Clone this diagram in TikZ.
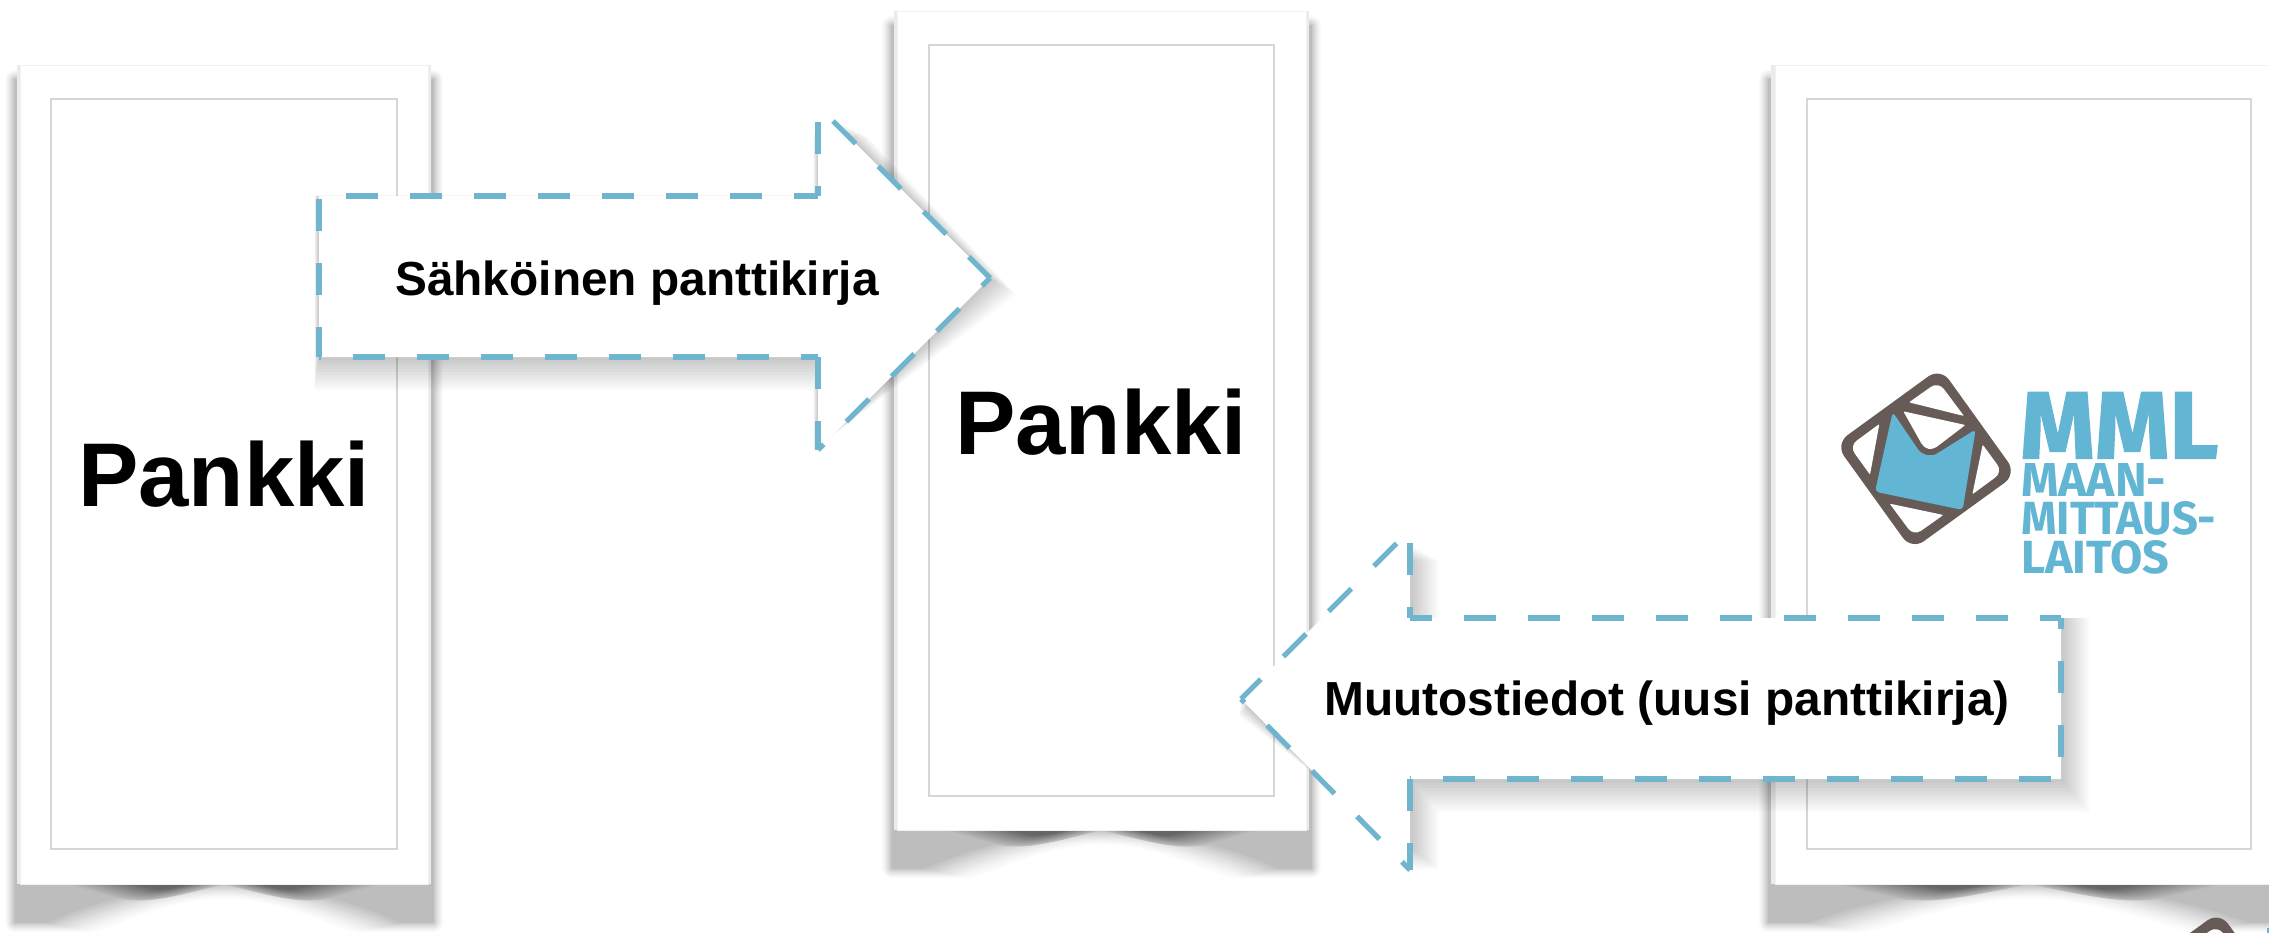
\documentclass[tikz,border=0pt]{standalone}
\usepackage{fontspec}
\setmainfont{Liberation Sans}
\newfontfamily\logofont{Fira Sans}
\newfontfamily\logoheavy[FakeBold=1.6]{Fira Sans Bold}
\definecolor{dashblue}{HTML}{70B5CE}
\definecolor{logoblue}{HTML}{62B5D3}
\definecolor{logobrown}{HTML}{665B57}
\tikzset{
  framerule/.style={draw=black!16,line width=1.1pt},
  cardface/.style={fill=white,draw=black!5,line width=0.8pt},
  dashseg/.style={draw=dashblue,line width=5.2pt,dash pattern=on 32pt off 32pt},
  bigword/.style={inner sep=0pt,anchor=base,font=\bfseries\fontsize{90.5pt}{100pt}\selectfont},
  arrowword/.style={inner sep=0pt,anchor=base,font=\bfseries\fontsize{47.8pt}{56pt}\selectfont},
  logoword/.style={inner sep=0pt,anchor=south west,text=logoblue}
}
% soft shadow of one card: x, y, horizontal scale (card is 408 wide in local units)
\newcommand{\CardShadow}[3]{%
  \begin{scope}[shift={(#1,#2)},xscale=#3]
    \foreach \i in {0,...,24}{
      \pgfmathsetmacro{\ta}{\i/24}
      \pgfmathsetmacro{\w}{20*(1-\ta)}
      \pgfmathsetmacro{\pct}{1+25*\ta^1.3}
      \pgfmathsetmacro{\sx}{72-46*\ta}
      \pgfmathsetmacro{\cy}{819+34-24*\ta}
      \pgfmathsetmacro{\dy}{819+4-4*\ta}
      \pgfmathsetmacro{\ex}{408-\sx}
      \filldraw[fill=black!\pct,draw=black!\pct,line width=\w pt,line join=round]
        (-5,15) -- (413,15) -- (413,857) -- (\ex,857)
        .. controls (318,\cy) and (258,\dy) .. (204,\dy)
        .. controls (150,\dy) and (90,\cy) .. (\sx,857) -- (-5,857) -- cycle;
    }
    \foreach \i in {0,...,17}{
      \pgfmathsetmacro{\ta}{\i/17}
      \pgfmathsetmacro{\pct}{26+\ta*34}
      \pgfmathsetmacro{\La}{45+\ta*70}
      \pgfmathsetmacro{\Ra}{205-\ta*35}
      \pgfmathsetmacro{\Da}{22-\ta*15}
      \pgfmathsetmacro{\Ma}{0.55*\La+0.45*\Ra}
      \pgfmathsetmacro{\Lb}{408-\La}
      \pgfmathsetmacro{\Rb}{408-\Ra}
      \pgfmathsetmacro{\Mb}{408-\Ma}
      \fill[black!\pct] (\La,819) -- (\Ra,819) .. controls (\Ma,819+\Da) .. (\La,819) -- cycle;
      \fill[black!\pct] (\Lb,819) -- (\Rb,819) .. controls (\Mb,819+\Da) .. (\Lb,819) -- cycle;
    }
    \fill[black!8] (-3,0) rectangle (0,819);
    \fill[black!8] (408,0) rectangle (411,819);
  \end{scope}}
% the emblem of the logo, drawn from a 3x local grid
\newcommand{\LogoEmblem}[2]{%
  \begin{scope}[shift={(#1,#2)},scale=1/3]
    \fill[logobrown,rounded corners=15pt] (541,83) -- (770,402) -- (455,630) -- (226,312) -- cycle;
    \fill[white] (447,187) [rounded corners=9pt] -- (535,125) [rounded corners=1pt] -- (612,228) -- cycle;
    \fill[white] (358,252) [rounded corners=9pt] -- (268,318) [rounded corners=1pt] -- (330,404) -- cycle;
    \fill[white] (389,491) [rounded corners=9pt] -- (461,588) [rounded corners=1pt] -- (550,525) -- cycle;
    \fill[white] (668,314) [rounded corners=9pt] -- (728,396) [rounded corners=1pt] -- (637,463) -- cycle;
    \fill[logoblue] (398,216) [rounded corners=14pt] -- (497,362) [rounded corners=4pt] -- (647,268) -- (608,510) -- (345,455) -- cycle;
    \fill[white] (430,214) [rounded corners=1pt] -- (616,255) [rounded corners=12pt] -- (502,342) [rounded corners=1pt] -- cycle;
  \end{scope}}
\def\ArrowOnePath{(319,196) -- (319,357) -- (818,357) -- (818,450) -- (990,278) -- (830,118) -- (818,120) -- (818,196) -- cycle}
\def\ArrowTwoPath{(2061,618) -- (2061,779) -- (1410,779) -- (1410,870) -- (1241,699) -- (1398,542) -- (1410,544) -- (1410,618) -- cycle}
\newcommand{\ArrowOneShadow}{%
  \foreach \w in {33,30,27,24,21,18,15,12,9,6,3}{
    \pgfmathsetmacro{\dd}{\w/2}
    \pgfmathsetmacro{\ee}{1.414*\dd}
    \fill[black,opacity=.021,shift={(0.36*\w,0.5*\w)}]
      (319-\dd,196-\dd) -- (319-\dd,357+\dd) -- (818-\dd,357+\dd) -- (818-\dd,450-\dd)
      -- (990+0.6*\ee,278) -- (832+\ee,120) -- (818-\dd,120) -- (818-\dd,196-\dd) -- cycle;
  }}
\newcommand{\ArrowTwoShadow}{%
  \foreach \w in {33,30,27,24,21,18,15,12,9,6,3}{
    \pgfmathsetmacro{\dd}{\w/2}
    \pgfmathsetmacro{\ee}{1.414*\dd}
    \fill[black,opacity=.021,shift={(0.36*\w,0.5*\w)}]
      (1410+\dd,618-\dd) -- (2061+\dd,618-\dd) -- (2061+\dd,779+\dd) -- (1410+\dd,779+\dd)
      -- (1410+\dd,870-\dd) -- (1241-0.6*\ee,699) -- (1396-\ee,544) -- (1410+\dd,544) -- cycle;
  }}
\begin{document}
\begin{tikzpicture}[x=1pt,y=-1pt]
  \useasboundingbox (0,0) rectangle (2269,933);
  \clip (0,0) rectangle (2269,933);
  \fill[white] (0,0) rectangle (2269,933);

  % card shadows
  \CardShadow{20}{65}{1}
  \CardShadow{897}{11}{1.0025}
  \CardShadow{1775}{65}{1.245}

  % cards and inner frames
  \path[cardface] (20,65) rectangle (428,884);
  \path[framerule] (51,99) rectangle (397,849);
  \path[cardface] (897,11) rectangle (1306,830);
  \path[framerule] (929,45) rectangle (1274,796);
  \path[cardface] (1775,65) rectangle (2283,884);
  \path[framerule] (1807,99) rectangle (2251,849);

  % card words
  \node[bigword] (bankA) at (224,506) {Pankki};
  \node[bigword] (bankB) at (1101,454) {Pankki};

  % logo
  \LogoEmblem{1760}{340}
  \node[logoword] (mml) at (2020,458.5) {\resizebox{198pt}{66pt}{\logoheavy MML}};
  \node[logoword] (maan) at (2021,497) {\resizebox{145pt}{33pt}{\logofont\bfseries MAAN-}};
  \node[logoword] (mitt) at (2021,535) {\resizebox{195pt}{33pt}{\logofont\bfseries MITTAUS-}};
  \node[logoword] (lait) at (2021,574) {\resizebox{148pt}{33pt}{\logofont\bfseries LAITOS}};

  % the copy of the emblem cut by the lower edge
  \LogoEmblem{2039}{884}
  \fill[logoblue] (2266.5,928) rectangle (2269,933);

  % arrow 1
  \ArrowOneShadow
  \fill[white] \ArrowOnePath;
  \draw[dashseg,dash phase=61pt] (319,196) -- (319,357);
  \draw[dashseg,dash phase=30pt] (319,357) -- (818,357);
  \draw[dashseg,dash phase=0pt] (818,357) -- (818,450);
  \draw[dashseg,dash phase=24pt] (818,450) -- (990,278);
  \draw[dashseg,dash phase=2pt] (990,278) -- (818,106);
  \draw[dashseg,dash phase=48pt] (818,106) -- (818,196);
  \draw[dashseg,dash phase=8pt] (818,196) -- (319,196);
  \node[arrowword] (lblA) at (637,295) {Sähköinen panttikirja};

  % arrow 2
  \ArrowTwoShadow
  \fill[white] \ArrowTwoPath;
  \draw[dashseg,dash phase=4pt] (1241,699) -- (1410,530);
  \draw[dashseg,dash phase=27pt] (1241,699) -- (1410,870);
  \draw[dashseg,dash phase=51pt] (1410,530) -- (1410,618);
  \draw[dashseg,dash phase=10pt] (1410,618) -- (2061,618);
  \draw[dashseg,dash phase=21pt] (2061,618) -- (2061,779);
  \draw[dashseg,dash phase=54pt] (2061,779) -- (1410,779);
  \draw[dashseg,dash phase=0pt] (1410,779) -- (1410,870);
  \node[arrowword] (lblB) at (1667,715) {Muutostiedot (uusi panttikirja)};
\end{tikzpicture}
\end{document}
